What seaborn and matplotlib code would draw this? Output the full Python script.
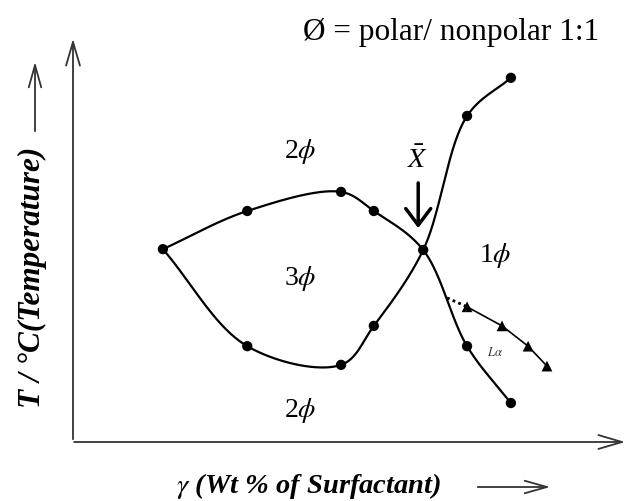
import numpy as np
import pandas as pd
import matplotlib
matplotlib.use("Agg")
import matplotlib.pyplot as plt
import seaborn as sns

sns.set_style("white")
plt.rcParams["font.family"] = ["Liberation Serif", "DejaVu Serif"]
plt.rcParams["mathtext.fontset"] = "stix"
plt.rcParams["text.color"] = "black"

# phase boundary points (x = wt % surfactant, y = temperature, arbitrary units)
left_x, left_y = 16.2, 47.5
xbar_x, xbar_y = 63.1, 47.3
upper_x = [31.4, 48.3, 54.2]
upper_y = [56.9, 61.6, 56.9]
lower_x = [31.4, 48.3, 54.2]
lower_y = [23.6, 19.0, 28.6]
right_low_x = [71.0, 78.9]
right_low_y = [23.6, 9.6]
right_up_x = [71.0, 78.9]
right_up_y = [80.3, 89.7]
la_x = [71.0, 77.3, 82.0, 85.4]
la_y = [33.3, 28.6, 23.6, 18.7]
la_start = (67.4, 35.5)

SX, SY = 5.55, 4.06  # rough pixel size of one unit, used for the spline spacing


def smooth(xs, ys, n=40, alpha=0.5):
    # centripetal Catmull-Rom curve through the given points
    p = np.column_stack([np.array(xs) * SX, np.array(ys) * SY])
    p = np.vstack([2 * p[0] - p[1], p, 2 * p[-1] - p[-2]])
    out = []
    for i in range(1, len(p) - 2):
        P0, P1, P2, P3 = p[i - 1], p[i], p[i + 1], p[i + 2]
        t0 = 0.0
        t1 = t0 + np.linalg.norm(P1 - P0) ** alpha
        t2 = t1 + np.linalg.norm(P2 - P1) ** alpha
        t3 = t2 + np.linalg.norm(P3 - P2) ** alpha
        t = np.linspace(t1, t2, n)[:, None]
        A1 = (t1 - t) / (t1 - t0) * P0 + (t - t0) / (t1 - t0) * P1
        A2 = (t2 - t) / (t2 - t1) * P1 + (t - t1) / (t2 - t1) * P2
        A3 = (t3 - t) / (t3 - t2) * P2 + (t - t2) / (t3 - t2) * P3
        B1 = (t2 - t) / (t2 - t0) * A1 + (t - t0) / (t2 - t0) * A2
        B2 = (t3 - t) / (t3 - t1) * A2 + (t - t1) / (t3 - t1) * A3
        out.append((t2 - t) / (t2 - t1) * B1 + (t - t1) / (t2 - t1) * B2)
    out = np.vstack(out)
    return out[:, 0] / SX, out[:, 1] / SY


fig = plt.figure(figsize=(6.3, 5.02), dpi=100)
ax = fig.add_axes([73 / 630, 59 / 502, 555 / 630, 406 / 502])
ax.set_xlim(0, 100)
ax.set_ylim(0, 100)
for s in ax.spines.values():
    s.set_visible(False)
ax.set_xticks([])
ax.set_yticks([])

curve_a = ([left_x] + upper_x + [xbar_x] + right_low_x, [left_y] + upper_y + [xbar_y] + right_low_y)
curve_b = ([left_x] + lower_x + [xbar_x] + right_up_x, [left_y] + lower_y + [xbar_y] + right_up_y)
for cx, cy in (curve_a, curve_b):
    sx, sy = smooth(cx, cy)
    sns.lineplot(x=sx, y=sy, sort=False, estimator=None, color="black", lw=1.6, ax=ax)

dots = pd.DataFrame({
    "x": [left_x] + upper_x + lower_x + [xbar_x] + right_low_x + right_up_x,
    "y": [left_y] + upper_y + lower_y + [xbar_y] + right_low_y + right_up_y,
})
sns.scatterplot(data=dots, x="x", y="y", color="black", s=55, edgecolor="none", ax=ax, zorder=3)

# lamellar boundary
sns.lineplot(x=la_x, y=la_y, sort=False, estimator=None, color="black", lw=1.2, ax=ax)
ax.plot([la_start[0], la_x[0]], [la_start[1], la_y[0]], color="black", lw=2, ls=(0, (1, 1.2)))
sns.scatterplot(x=la_x, y=la_y, marker="^", color="black", s=60, edgecolor="none", ax=ax, zorder=3)

# axes arrows
arrow_kw = dict(arrowstyle="->,head_length=1.7,head_width=0.5", color="#333333", lw=1.3)
ax.annotate("", xy=(0, 1), xytext=(0, 0), xycoords="axes fraction", arrowprops=arrow_kw)
ax.annotate("", xy=(1, 0), xytext=(-0.003, 0), xycoords="axes fraction", arrowprops=arrow_kw)

# X-bar marker
ax.annotate("", xy=(62.2, 52.0), xytext=(62.2, 64.5),
            arrowprops=dict(arrowstyle="->,head_length=1.2,head_width=0.9", color="black", lw=2.5))
ax.text(62.0, 69.5, r"$\bar{X}$", fontsize=20, ha="center", va="center")

# phase labels
ax.text(40.9, 71.7, r"2$\phi$", fontsize=20, ha="center", va="center")
ax.text(40.9, 40.4, r"3$\phi$", fontsize=20, ha="center", va="center")
ax.text(40.9, 8.1, r"2$\phi$", fontsize=20, ha="center", va="center")
ax.text(76.0, 46.3, r"1$\phi$", fontsize=20, ha="center", va="center")
ax.text(76.0, 22.2, r"$L\alpha$", fontsize=9, ha="center", va="center", color="#333333")

fig.text(451 / 630, 1 - 33 / 502, "Ø = polar/ nonpolar 1:1", fontsize=22.5, ha="center", va="center")

# axis labels with their arrows
fig.text(309 / 630, 16 / 502, r"$\gamma$ (Wt % of Surfactant)", fontsize=20.5,
         fontweight="bold", fontstyle="italic", ha="center", va="center")
fig.text(32 / 630, 1 - 277 / 502, "T / °C(Temperature)", fontsize=22.5, rotation=90,
         fontweight="bold", fontstyle="italic", ha="center", va="center")
lab_kw = dict(arrowstyle="->,head_length=1.6,head_width=0.45", color="#333333", lw=1.3)
ax.annotate("", xy=(553, 14), xytext=(475, 14), xycoords="figure pixels", arrowprops=lab_kw)
ax.annotate("", xy=(35, 442), xytext=(35, 367), xycoords="figure pixels", arrowprops=lab_kw)

fig.savefig("out.png", dpi=100)
